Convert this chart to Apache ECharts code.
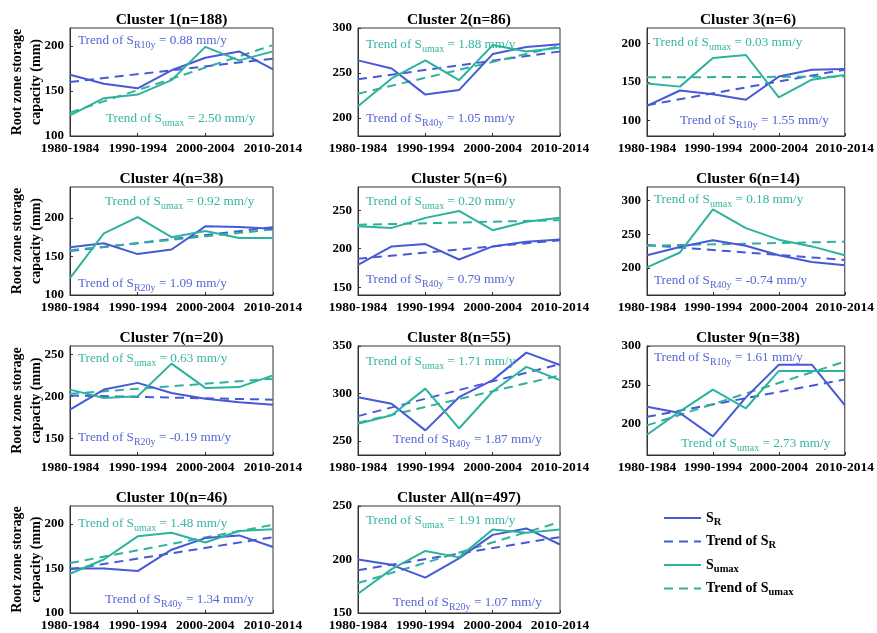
<!DOCTYPE html>
<html><head><meta charset="utf-8">
<script src="https://cdn.jsdelivr.net/npm/echarts@6/dist/echarts.min.js"></script>
<style>html,body{margin:0;padding:0;background:#fff}#c{width:877px;height:633px}</style>
</head><body><div id="c"></div>
<script>
const categories = ['1980-1984','1985-1989','1990-1994','1995-1999','2000-2004','2005-2009','2010-2014'];
const clusterTitles = ['Cluster 1(n=188)','Cluster 2(n=86)','Cluster 3(n=6)','Cluster 4(n=38)','Cluster 5(n=6)','Cluster 6(n=14)','Cluster 7(n=20)','Cluster 8(n=55)','Cluster 9(n=38)','Cluster 10(n=46)','Cluster All(n=497)'];
const srValues = [
  [168,158,153,173,187,194,174],
  [264,255,226,231,271,279,282],
  [119,139,134,127,157,166,167],
  [162,167,153,159,189,188,186],
  [179,203,206,186,203,209,212],
  [219,231,241,233,219,209,204],
  [184,208,216,204,197,193,190],
  [296,289,261,296,314,343,330],
  [222,214,184,234,276,276,224],
  [150,150,147,171,184,187,174],
  [200,195,183,201,223,229,214]
];
const sumaxValues = [
  [123,142,146,162,199,184,194],
  [213,244,264,242,281,274,278],
  [148,144,181,185,130,153,159],
  [122,180,201,175,183,174,174],
  [229,227,240,249,224,235,240],
  [201,223,287,259,242,232,219],
  [208,198,200,239,210,211,225],
  [268,277,305,263,302,328,314],
  [186,216,244,220,268,268,268],
  [144,160,186,190,179,192,194],
  [168,191,208,202,228,225,228]
];
const srTrendEnds = [[160,186],[243,274],[120,166],[157,188],[187,211],[234,212],[201,196],[276,331],[209,257],[149,185],[190,221]];
const sumaxTrendEnds = [[126,201],[227,280],[156,157],[158,185],[231,237],[233,239],[203,221],[269,319],[198,280],[156,199],[178,235]];
const srSub = ['R10y','R40y','R10y','R20y','R40y','R40y','R20y','R40y','R10y','R40y','R20y'];
const srRates = ['0.88','1.05','1.55','1.09','0.79','-0.74','-0.19','1.87','1.61','1.34','1.07'];
const sumaxRates = ['2.50','1.88','0.03','0.92','0.20','0.18','0.63','1.71','2.73','1.48','1.91'];
const yMins = [100,180,80,100,140,160,130,235,160,100,150];
const yMaxs = [220,300,220,240,280,320,260,350,300,220,250];
const yTickLabels = [[100,150,200],[200,250,300],[100,150,200],[100,150,200],[150,200,250],[200,250,300],[150,200,250],[250,300,350],[200,250,300],[100,150,200],[150,200,250]];
const xTickLabels = ['1980-1984','1990-1994','2000-2004','2010-2014'];

// layout
const colLeft = [70,358,647], colWidth = [203,202,202];
const rowTop = [28,187,346,506], rowHeight = [108,108,109,108];
const topIsSR = [true,false,false,false,false,false,false,false,true,false,false];
const annTop = [[78,39],[366,43],[653,41],[105,200],[366,200],[654,198],[78,357],[366,360],[654,356],[78,522],[366,519]];
const annBot = [[106,117],[366,117],[680,119],[78,282],[366,278],[654,279],[78,436],[393,438],[681,442],[105,598],[393,601]];

const BLUE = '#4659d6', TEAL = '#2db39d';
const BLUE_T = '#5566d2', TEAL_T = '#35b5a0';
const FF = '"Liberation Serif", "Times New Roman", serif';

const grids = [], xAxes = [], yAxes = [], series = [], graphics = [];
for (let i = 0; i < 11; i++) {
  const r = Math.floor(i / 3), c = i % 3;
  grids.push({left: colLeft[c], top: rowTop[r], width: colWidth[c], height: rowHeight[r], show: true, borderColor: '#333', borderWidth: 1, backgroundColor: 'transparent'});
  xAxes.push({type: 'category', gridIndex: i, data: categories, boundaryGap: false,
    axisLine: {lineStyle: {color: '#333', width: 1}},
    axisTick: {inside: true, length: 3, interval: 1, lineStyle: {color: '#333'}},
    axisLabel: {interval: 1, color: '#000', fontWeight: 'bold', fontFamily: FF, fontSize: 13.5, margin: 6,
      formatter: v => xTickLabels.indexOf(v) >= 0 ? v : ''},
    splitLine: {show: false}});
  yAxes.push({type: 'value', gridIndex: i, min: yMins[i], max: yMaxs[i],
    axisLine: {show: true, lineStyle: {color: '#333', width: 1}},
    axisTick: {show: true, inside: true, length: 3, customValues: yTickLabels[i], lineStyle: {color: '#333'}},
    axisLabel: {customValues: yTickLabels[i], color: '#000', fontWeight: 'bold', fontFamily: FF, fontSize: 13, margin: 6},
    splitLine: {show: false},
    name: c === 0 ? 'Root zone storage\ncapacity (mm)' : '',
    nameLocation: 'middle', nameGap: 24, nameRotate: 90, nameMoveOverlap: false,
    nameTextStyle: {color: '#000', fontWeight: 'bold', fontFamily: FF, fontSize: 14, lineHeight: 19}});
  const last = categories[categories.length - 1];
  series.push({name: 'SR', type: 'line', xAxisIndex: i, yAxisIndex: i, data: srValues[i], symbol: 'none',
    lineStyle: {color: BLUE, width: 2}, itemStyle: {color: BLUE}, z: 3});
  series.push({name: 'TrendSR', type: 'line', xAxisIndex: i, yAxisIndex: i,
    data: [[categories[0], srTrendEnds[i][0]], [last, srTrendEnds[i][1]]], symbol: 'none',
    lineStyle: {color: BLUE, width: 2, type: [9, 6]}, itemStyle: {color: BLUE}, z: 2});
  series.push({name: 'Sumax', type: 'line', xAxisIndex: i, yAxisIndex: i, data: sumaxValues[i], symbol: 'none',
    lineStyle: {color: TEAL, width: 2}, itemStyle: {color: TEAL}, z: 3});
  series.push({name: 'TrendSumax', type: 'line', xAxisIndex: i, yAxisIndex: i,
    data: [[categories[0], sumaxTrendEnds[i][0]], [last, sumaxTrendEnds[i][1]]], symbol: 'none',
    lineStyle: {color: TEAL, width: 2, type: [9, 6]}, itemStyle: {color: TEAL}, z: 2});

  graphics.push({type: 'text', x: colLeft[c] + colWidth[c] / 2, y: rowTop[r] - 8,
    style: {text: clusterTitles[i], fill: '#000', font: 'bold 15.5px ' + FF, align: 'center', verticalAlign: 'middle'}});
  const mk = (color, sub, rate) => ({
    text: '{a|Trend of S}{s|' + sub + '}{a| = ' + rate + ' mm/y}',
    rich: {
      a: {fill: color, fontSize: 13.2, fontFamily: FF, lineHeight: 18, verticalAlign: 'middle'},
      s: {fill: color, fontSize: 10, fontFamily: FF, lineHeight: 19, verticalAlign: 'bottom'}
    }, verticalAlign: 'middle', align: 'left'});
  const srAnn = mk(BLUE_T, srSub[i], srRates[i]);
  const suAnn = mk(TEAL_T, 'umax', sumaxRates[i]);
  const pTop = annTop[i], pBot = annBot[i];
  graphics.push({type: 'text', x: pTop[0], y: pTop[1] + 2, z: 10, style: topIsSR[i] ? srAnn : suAnn});
  graphics.push({type: 'text', x: pBot[0], y: pBot[1] + 2, z: 10, style: topIsSR[i] ? suAnn : srAnn});
}

const legendLabels = {
  SR: '{b|S}{s|R}',
  TrendSR: '{b|Trend of S}{s|R}',
  Sumax: '{b|S}{s|umax}',
  TrendSumax: '{b|Trend of S}{s|umax}'
};

const option = {
  backgroundColor: '#fff',
  animation: false,
  grid: grids, xAxis: xAxes, yAxis: yAxes, series: series,
  graphic: graphics,
  legend: {
    data: ['SR', 'TrendSR', 'Sumax', 'TrendSumax'],
    orient: 'vertical', left: 663, top: 511, padding: 0, itemWidth: 37, itemHeight: 14, itemGap: 7,
    selectedMode: false,
    itemStyle: {opacity: 0},
    formatter: n => legendLabels[n],
    textStyle: {
      color: '#000', padding: [0, 0, 0, 0],
      rich: {
        b: {fontSize: 14, fontWeight: 'bold', fontFamily: FF, color: '#000', lineHeight: 16, verticalAlign: 'middle'},
        s: {fontSize: 10.5, fontWeight: 'bold', fontFamily: FF, color: '#000', lineHeight: 19, verticalAlign: 'bottom'}
      }
    }
  }
};
const chart = echarts.init(document.getElementById('c'), null, {renderer: 'canvas'});
chart.setOption(option);
</script></body></html>
